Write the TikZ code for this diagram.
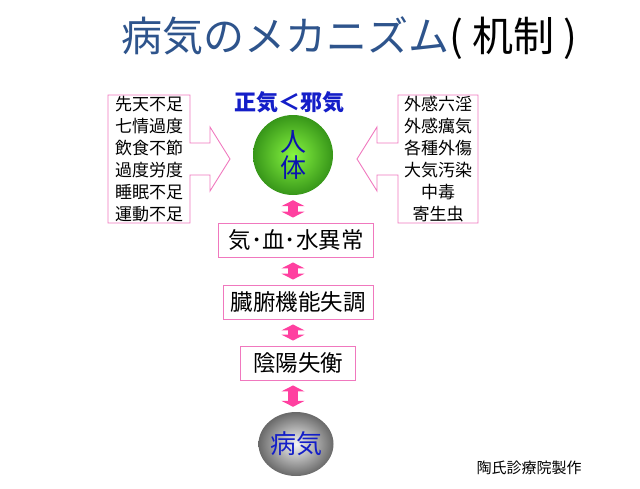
\documentclass[tikz,border=0pt]{standalone}
\usepackage{fontspec}
\setmainfont{Noto Sans CJK JP}
\usetikzlibrary{arrows.meta,shapes.geometric}

\definecolor{titleblue}{RGB}{46,84,140}
\definecolor{jyakiblue}{RGB}{20,30,200}
\definecolor{textblue}{RGB}{10,20,175}
\definecolor{boxpink}{RGB}{240,120,190}
\definecolor{arrowpink}{RGB}{255,64,160}

\begin{document}
\begin{tikzpicture}[x=1pt, y=-1pt,
    flowbox/.style={draw=boxpink, line width=0.9pt, fill=white, minimum height=34pt,
        inner xsep=7pt, font=\fontsize{22.5}{26}\selectfont},
    listtext/.style={align=center, font=\fontsize{17}{22}\selectfont},
    twoway/.style={draw=arrowpink, line width=10pt,
        {Triangle[width=23pt,length=6pt]}-{Triangle[width=23pt,length=6pt]},
        shorten <=5pt, shorten >=5pt}]
    \useasboundingbox (0,0) rectangle (640,488);

    % Title
    \node[anchor=west, font=\fontsize{41}{48}\selectfont] (title) at (118,38)
        {\textcolor{titleblue}{病気のメカニズム}( 机制 )};

    % Inner causes, box with arrow to the right
    \draw[boxpink, line width=0.9pt, fill=white] (108,95) -- (190,95) -- (190,143) -- (210,143)
        -- (210,127) -- (230,159) -- (210,191) -- (210,175) -- (190,175) -- (190,223)
        -- (108,223) -- cycle;
    \node[listtext] (inner) at (149,159) {先天不足\\七情過度\\飲食不節\\過度労度\\睡眠不足\\運動不足};

    % Outer causes, box with arrow to the left
    \draw[boxpink, line width=0.9pt, fill=white] (478,95) -- (398,95) -- (398,143) -- (377,143)
        -- (377,127) -- (357,159) -- (377,191) -- (377,175) -- (398,175) -- (398,223)
        -- (478,223) -- cycle;
    \node[listtext] (outer) at (438,159) {外感六淫\\外感癘気\\各種外傷\\大気汚染\\中毒\\寄生虫};

    % Balance label and the body
    \node[font=\bfseries\fontsize{22}{24}\selectfont, text=jyakiblue] (balance) at (289,102) {正気＜邪気};
    \node[circle, minimum size=80pt, inner sep=0pt, shading=radial,
        inner color={rgb,255:red,135;green,245;blue,65}, outer color={rgb,255:red,55;green,150;blue,25},
        align=center, text=textblue, font=\fontsize{26}{26}\selectfont] (body) at (293,155) {人\\体};

    % Chain down to the disease
    \node[flowbox, minimum width=155pt] (qi) at (296,240) {気･血･水異常};
    \node[flowbox, minimum width=150pt] (organ) at (298,302) {臓腑機能失調};
    \node[flowbox, minimum width=115pt] (yinyang) at (298,363) {陰陽失衡};
    \node[ellipse, minimum width=75pt, minimum height=64pt, inner sep=0pt, shading=radial,
        inner color={rgb,255:red,245;green,245;blue,245}, outer color={rgb,255:red,105;green,105;blue,105},
        text=jyakiblue, font=\fontsize{26}{28}\selectfont] (disease) at (296,444) {病気};

    \draw[twoway] (body.south) -- (body.south |- qi.north);
    \draw[twoway] (qi.south -| body) -- (organ.north -| body);
    \draw[twoway] (organ.south -| body) -- (yinyang.north -| body);
    \draw[twoway] (yinyang.south -| body) -- (disease.north -| body);

    % Credit
    \node[font=\fontsize{15}{18}\selectfont] (maker) at (529,468) {陶氏診療院製作};
\end{tikzpicture}
\end{document}
